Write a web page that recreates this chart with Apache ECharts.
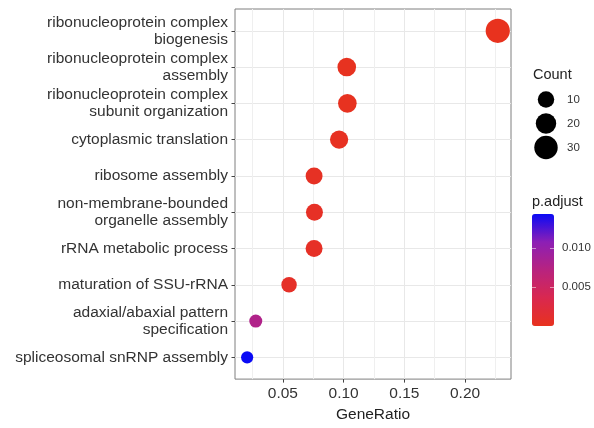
<!DOCTYPE html>
<html>
<head>
<meta charset="utf-8">
<script src="https://cdn.jsdelivr.net/npm/echarts@6/dist/echarts.min.js"></script>
<style>
  html, body { margin: 0; padding: 0; background: #fff; }
  #chart { width: 594px; height: 428px; }
</style>
</head>
<body>
<div id="chart"></div>
<script>
// GO terms, top to bottom
var terms = [
  'ribonucleoprotein complex\nbiogenesis',
  'ribonucleoprotein complex\nassembly',
  'ribonucleoprotein complex\nsubunit organization',
  'cytoplasmic translation',
  'ribosome assembly',
  'non-membrane-bounded\norganelle assembly',
  'rRNA metabolic process',
  'maturation of SSU-rRNA',
  'adaxial/abaxial pattern\nspecification',
  'spliceosomal snRNP assembly'
];
var geneRatio = [0.2269, 0.1026, 0.1031, 0.0963, 0.0757, 0.0760, 0.0757, 0.0551, 0.0277, 0.0206];
var counts = [33, 15, 15, 14, 11, 11, 11, 8, 4, 3];
var pAdjust = [0.00004, 0.0002, 0.0002, 0.0003, 0.0005, 0.0006, 0.0006, 0.0008, 0.0079, 0.0144];

var xTicks = [0.05, 0.10, 0.15, 0.20];
var xMinor = [0.025, 0.075, 0.125, 0.175, 0.225];
var countBreaks = [10, 20, 30];
var pTicks = [0.005, 0.010];

var FONT = 'Liberation Sans, Arial, Helvetica, sans-serif';
var pMin = Math.min.apply(null, pAdjust);
var pMax = Math.max.apply(null, pAdjust);

function sizeOf(c) { return 7 + 3 * Math.sqrt(c); }

var yIdx = terms.map(function (t, i) { return i; });
var points = terms.map(function (t, i) {
  return [geneRatio[i], i, pAdjust[i], counts[i]];
});

var chart = echarts.init(document.getElementById('chart'), null, { renderer: 'canvas' });

chart.setOption({
  animation: false,
  backgroundColor: '#fff',
  textStyle: { fontFamily: FONT },
  grid: [
    { left: 235, top: 9, width: 276, height: 374, show: true, borderColor: '#7f7f7f', borderWidth: 1, backgroundColor: '#fff' },
    { left: 535, top: 87.5, width: 22, height: 72 },
    { left: 532, top: 214, width: 22, height: 112 }
  ],
  xAxis: [
    {
      type: 'value', gridIndex: 0, min: 0.0106, max: 0.2378,
      axisLine: { show: false, onZero: false },
      axisTick: { show: true, length: 3.5, lineStyle: { color: '#444' }, customValues: xTicks },
      axisLabel: { customValues: xTicks, formatter: function (v) { return v.toFixed(2); },
        fontSize: 15.5, color: '#333', margin: 7, fontFamily: FONT },
      splitLine: { show: true, lineStyle: { color: '#E8E8E8', width: 1 } },
      name: 'GeneRatio', nameLocation: 'middle', nameGap: 27,
      nameTextStyle: { fontSize: 15.5, color: '#222', fontFamily: FONT }
    },
    {
      type: 'value', gridIndex: 0, min: 0.0106, max: 0.2378, position: 'top',
      axisLine: { show: false, onZero: false },
      axisTick: { show: false, customValues: xMinor },
      axisLabel: { show: false, customValues: xMinor },
      splitLine: { show: true, lineStyle: { color: '#EFEFEF', width: 1 } }
    },
    { type: 'value', gridIndex: 1, min: -1, max: 1, show: false },
    { type: 'value', gridIndex: 2, min: 0, max: 1, show: false }
  ],
  yAxis: [
    {
      type: 'value', gridIndex: 0, min: -0.6, max: 9.6, inverse: true,
      axisLine: { show: false, onZero: false },
      axisTick: { show: true, length: 3.5, lineStyle: { color: '#444' }, customValues: yIdx },
      axisLabel: { customValues: yIdx, formatter: function (v) { return terms[Math.round(v)]; },
        fontSize: 15.5, lineHeight: 17, color: '#333', margin: 7, fontFamily: FONT },
      splitLine: { show: true, lineStyle: { color: '#E8E8E8', width: 1 } }
    },
    {
      type: 'category', gridIndex: 1, data: countBreaks.map(String), inverse: true, position: 'right',
      axisLine: { show: false }, axisTick: { show: false }, splitLine: { show: false },
      axisLabel: { fontSize: 11.5, color: '#333', margin: 10, fontFamily: FONT }
    },
    {
      type: 'value', gridIndex: 2, min: pMin, max: pMax, position: 'left', z: 10,
      axisLine: { show: false }, splitLine: { show: false }, axisLabel: { show: false },
      axisTick: { show: true, inside: true, length: 4, lineStyle: { color: 'rgba(255,255,255,0.5)' }, customValues: pTicks }
    },
    {
      type: 'value', gridIndex: 2, min: pMin, max: pMax, position: 'right', z: 10,
      axisLine: { show: false }, splitLine: { show: false },
      axisTick: { show: true, inside: true, length: 4, lineStyle: { color: 'rgba(255,255,255,0.5)' }, customValues: pTicks },
      axisLabel: { customValues: pTicks, formatter: function (v) { return v.toFixed(3); },
        fontSize: 11.5, color: '#333', margin: 8, fontFamily: FONT }
    }
  ],
  visualMap: {
    type: 'continuous', seriesIndex: 0, dimension: 2,
    min: pMin, max: pMax,
    left: 532, top: 214, itemWidth: 22, itemHeight: 112, padding: 0,
    calculable: false, hoverLink: false, text: null, showLabel: false,
    inRange: { color: ['#E8321E', '#D9284F', '#B8237F', '#8C1FB5', '#0A0AF5'] }
  },
  graphic: [
    { type: 'text', left: 533, top: 67, style: { text: 'Count', fontSize: 14.5, fill: '#222', fontFamily: FONT } },
    { type: 'text', left: 532, top: 194, style: { text: 'p.adjust', fontSize: 14.5, fill: '#222', fontFamily: FONT } }
  ],
  series: [
    {
      type: 'scatter', xAxisIndex: 0, yAxisIndex: 0, z: 5,
      data: points,
      encode: { x: 0, y: 1 },
      symbolSize: function (d) { return sizeOf(d[3]); },
      itemStyle: { opacity: 1 }
    },
    {
      type: 'scatter', xAxisIndex: 2, yAxisIndex: 1,
      data: countBreaks.map(function (c) { return [0, String(c), c]; }),
      symbolSize: function (d) { return sizeOf(d[2]); },
      itemStyle: { color: '#000', opacity: 1 }
    }
  ]
});
</script>
</body>
</html>
